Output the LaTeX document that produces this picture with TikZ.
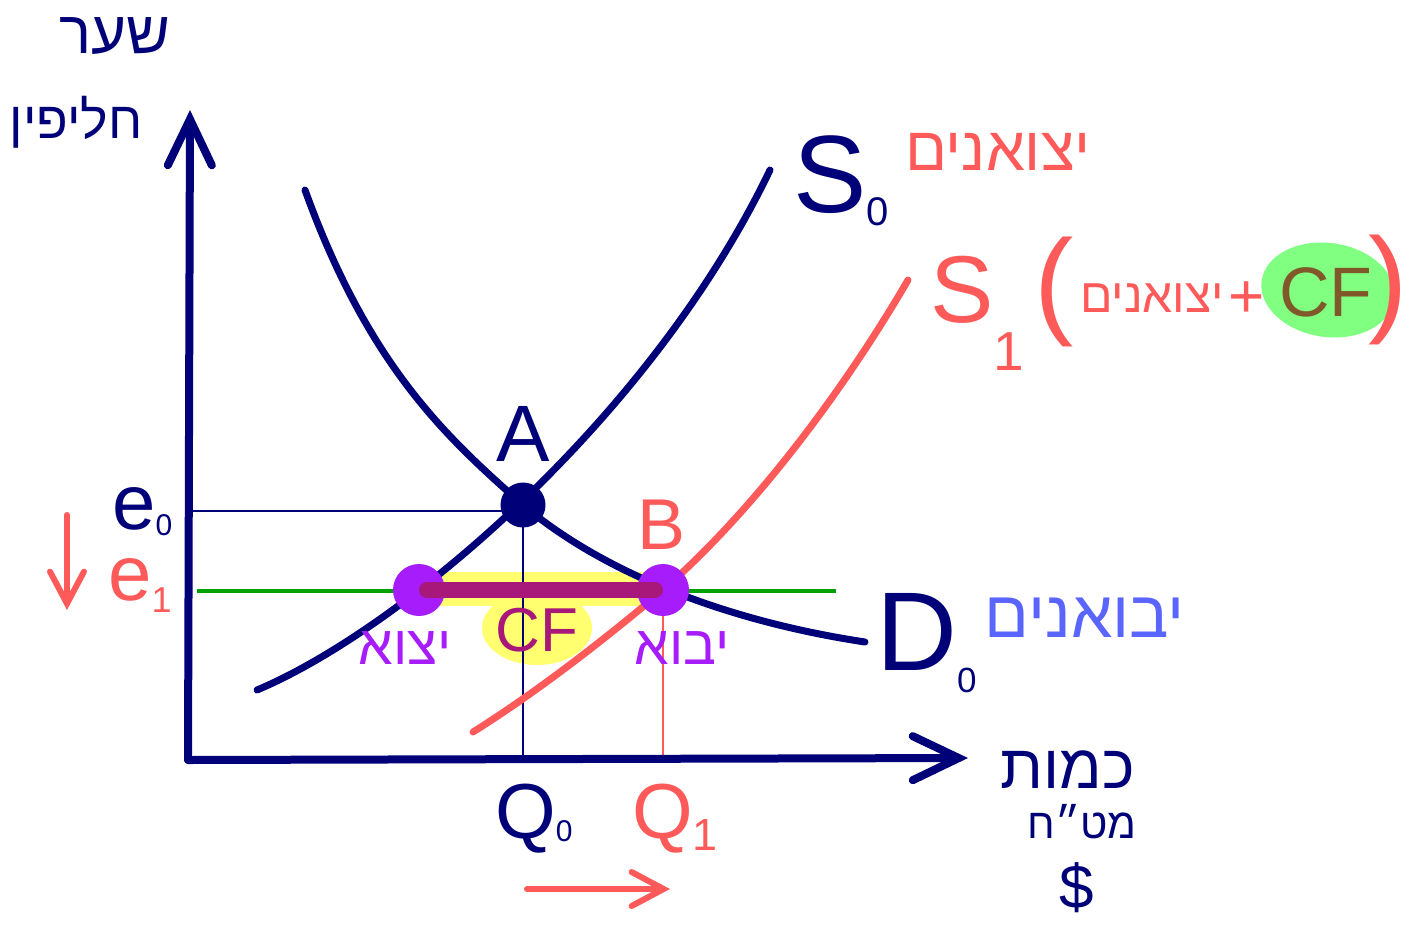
\documentclass[tikz,border=0pt]{standalone}
\usepackage{fontspec}
\setmainfont{Liberation Sans}
\newfontfamily\hebfont[Script=Hebrew]{Liberation Sans}
\usetikzlibrary{arrows.meta}
\TeXXeTstate=1

\definecolor{navyink}{RGB}{0,0,120}
\definecolor{redink}{RGB}{255,90,90}
\definecolor{blueink}{RGB}{90,100,255}
\definecolor{violetink}{RGB}{166,28,250}
\definecolor{plumink}{RGB}{168,23,122}
\definecolor{greenink}{RGB}{0,160,0}
\definecolor{yellowmark}{RGB}{255,255,112}
\definecolor{greenmark}{RGB}{128,255,128}
\definecolor{brownink}{RGB}{128,88,42}

\newcommand\fs[1]{\fontsize{#1}{#1}\selectfont}
\newcommand\heb[1]{{\hebfont\beginR#1\endR}}
\newcommand\idx[3]{\raisebox{#1}{\fs{#2}#3}}

\begin{document}
\begin{tikzpicture}[x=1pt,y=-1pt,
    curve/.style={line width=7pt,line cap=round},
    guide/.style={line width=2.5pt},
    axis/.style={navyink,line width=8pt,line cap=round,-{Straight Barb[length=46pt,width=44pt,line cap=round]}},
    hint/.style={redink,line width=6pt,line cap=round,-{Straight Barb[length=32pt,width=34pt,line cap=round]}},
    lbl/.style={inner sep=0pt}]
    \useasboundingbox (0,0) rectangle (1418,924);

    % points
    \coordinate (O) at (188,760);
    \coordinate (ytip) at (190,110);
    \coordinate (xtip) at (968,758);
    \coordinate (A) at (523,505);
    \coordinate (B) at (663,590);
    \coordinate (L) at (419,590);
    \coordinate (e0) at (190,511);
    \coordinate (Q0) at (523,760);
    \coordinate (Q1) at (663,760);
    \coordinate (gL) at (197,591);
    \coordinate (gR) at (836,591);

    % highlights
    \fill[yellowmark] (430,572) rectangle (648,606);
    \fill[yellowmark] (537,628) ellipse[x radius=55, y radius=37];
    \fill[greenmark, rotate around={-8:(1328,290)}] (1328,290) ellipse[x radius=67, y radius=47];

    % guides
    \draw[navyink, guide] (e0) -- (A |- e0);
    \draw[navyink, guide] (A) -- (Q0);
    \draw[redink, line width=2pt] (B) -- (Q1);
    \draw[greenink, line width=3.5pt] (gL) -- (gR);

    % curves
    \draw[navyink, curve] (257,690) .. controls (400,630) and (650,420) .. (770,170);
    \draw[navyink, curve] (305,190) .. controls (370,370) and (450,440) .. (A) .. controls (600,570) and (720,620) .. (865,642);
    \draw[redink, curve] (473,732) .. controls (540,690) and (610,635) .. (B) .. controls (760,505) and (850,380) .. (908,280);

    % axes
    \draw[axis] (O) -- (ytip);
    \draw[axis] (O) -- (xtip);

    % dots
    \fill[navyink] (A) circle[radius=22.5];
    \fill[violetink] (L) circle[radius=26];
    \fill[violetink] (B) circle[radius=26];
    \draw[plumink, line width=16pt, line cap=round, shorten <=8pt, shorten >=8pt] (L) -- (B);

    % arrows of change
    \draw[hint] (67,515) -- (67,610);
    \draw[hint] (527,889) -- (670,889);

    % labels
    \node[lbl, navyink, font=\fs{80}] (labA) at (523,434) {A};
    \node[lbl, redink, font=\fs{72}] (labB) at (662,525) {B};
    \node[lbl, navyink, font=\fs{110}, anchor=base west] (labS0) at (793,212) {S\idx{-13pt}{40}{0}};
    \node[lbl, redink, font=\fs{62}] (labExpS) at (998,152) {\heb{יצואנים}};
    \node[lbl, redink, font=\fs{95}, anchor=base west] (labS1) at (930,322) {S\idx{-48pt}{55}{1}};
    \node[lbl, redink, font=\fs{118}] (lpar) at (1054,292) {(};
    \node[lbl, redink, font=\fs{48}] (labExpS1) at (1152,298) {\heb{יצואנים}};
    \node[lbl, redink, font=\fs{62}] (plus) at (1247,300) {+};
    \node[lbl, brownink, font=\fs{70}] (cfS1) at (1326,292) {CF};
    \node[lbl, redink, font=\fs{118}] (rpar) at (1388,290) {)};
    \node[lbl, navyink, font=\fs{112}, anchor=base west] (labD0) at (876,670) {D\idx{-22pt}{35}{0}};
    \node[lbl, blueink, font=\fs{66}] (labImpD) at (1085,618) {\heb{יבואנים}};
    \node[lbl, navyink, font=\fs{78}, anchor=base west] (labe0) at (112,529) {e\idx{-6pt}{30}{0}};
    \node[lbl, redink, font=\fs{78}, anchor=base west] (labe1) at (108,600) {e\idx{-12pt}{36}{1}};
    \node[lbl, navyink, font=\fs{78}, anchor=base west] (labQ0) at (495,838) {Q\idx{-3pt}{30}{0}};
    \node[lbl, redink, font=\fs{78}, anchor=base west] (labQ1) at (632,838) {Q\idx{-12pt}{45}{1}};
    \node[lbl, violetink, font=\fs{55}] (labExp) at (405,648) {\heb{יצוא}};
    \node[lbl, violetink, font=\fs{55}] (labImp) at (682,648) {\heb{יבוא}};
    \node[lbl, plumink, font=\fs{62}] (cfBar) at (537,630) {CF};
    \node[lbl, navyink, font=\fs{60}] (labRate1) at (115,36) {\heb{שער}};
    \node[lbl, navyink, font=\fs{52}] (labRate2) at (76,122) {\heb{חליפין}};
    \node[lbl, navyink, font=\fs{62}] (labQty1) at (1068,770) {\heb{כמות}};
    \node[lbl, navyink, font=\fs{42}] (labQty2) at (1082,822) {\heb{מט״ח}};
    \node[lbl, navyink, font=\fs{62}] (labQty3) at (1077,888) {\$};
\end{tikzpicture}
\end{document}
